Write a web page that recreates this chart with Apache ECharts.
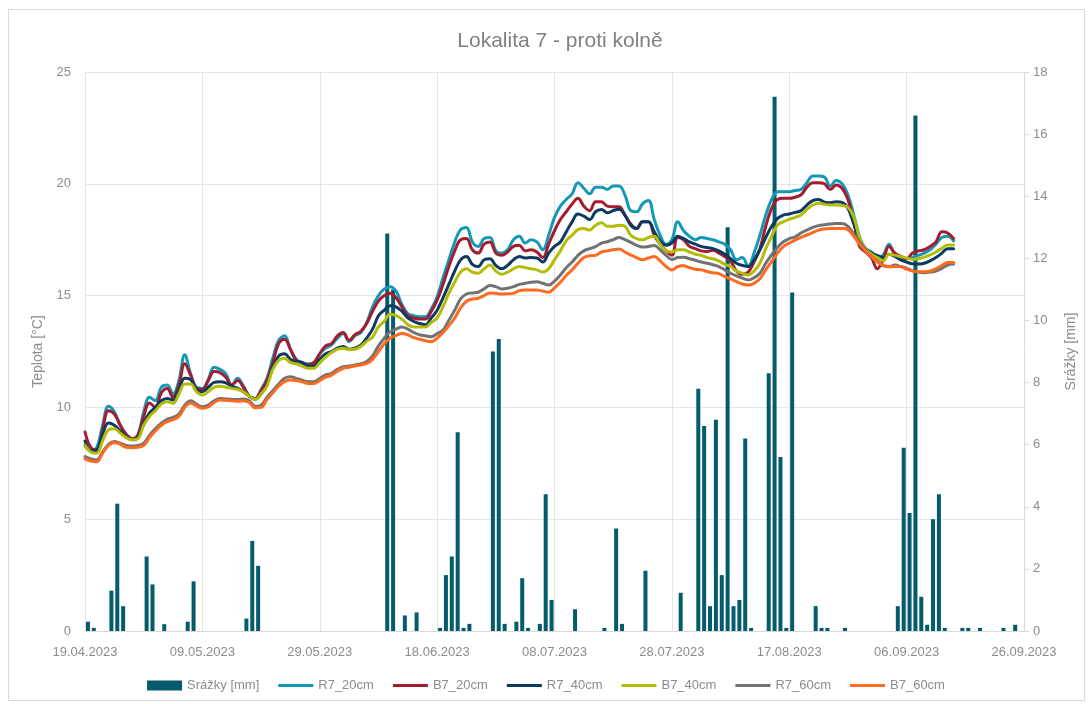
<!DOCTYPE html>
<html>
<head>
<meta charset="utf-8">
<title>Lokalita 7 - proti kolně</title>
<script src="https://cdn.jsdelivr.net/npm/echarts@6/dist/echarts.min.js"></script>
<style>
  body { margin: 0; background: #fff; }
  .frame { position: absolute; left: 8px; top: 9px; width: 1075px; height: 690px; border: 1px solid #d9d9d9; }
  #chart { position: absolute; left: 0; top: 0; width: 1092px; height: 704px; }
</style>
</head>
<body>
<div class="frame"></div>
<div id="chart"></div>
<script>
// popisky osy x (po 20 dnech od 19.04.2023)
const dayTicks = ['19.04.2023', '09.05.2023', '29.05.2023', '18.06.2023', '08.07.2023',
  '28.07.2023', '17.08.2023', '06.09.2023', '26.09.2023']

// srážky [mm], den po dni od 19.04.
const rainMm = [
  0.3, 0.1, 0, 0, 1.3, 4.1, 0.8, 0, 0, 0,
  2.4, 1.5, 0, 0.22, 0, 0, 0, 0.3, 1.6, 0,
  0, 0, 0, 0, 0, 0, 0, 0.4, 2.9, 2.1,
  0, 0, 0, 0, 0, 0, 0, 0, 0, 0,
  0, 0, 0, 0, 0, 0, 0, 0, 0, 0,
  0, 12.8, 11.0, 0, 0.5, 0, 0.6, 0, 0, 0,
  0.1, 1.8, 2.4, 6.4, 0.1, 0.23, 0, 0, 0, 9.0,
  9.4, 0.23, 0, 0.3, 1.7, 0.1, 0, 0.23, 4.4, 1.0,
  0, 0, 0, 0.7, 0, 0, 0, 0, 0.1, 0,
  3.3, 0.23, 0, 0, 0, 1.94, 0, 0, 0, 0,
  0, 1.23, 0, 0, 7.8, 6.6, 0.8, 6.8, 1.8, 13.0,
  0.8, 1.0, 6.2, 0.1, 0, 0, 8.3, 17.2, 5.6, 0.1,
  10.9, 0, 0, 0, 0.8, 0.1, 0.1, 0, 0, 0.1,
  0, 0, 0, 0, 0, 0, 0, 0, 0.8, 5.9,
  3.8, 16.6, 1.1, 0.2, 3.6, 4.4, 0.1, 0, 0, 0.1,
  0.1, 0, 0.1, 0, 0, 0, 0.1, 0, 0.2, 0
]

// teploty [°C]
const r7_20 = [
  8.3, 8.05, 8.2, 9.2, 10.05, 9.8, 9.2, 8.8, 8.6, 8.75,
  9.8, 10.45, 10.3, 10.9, 11.0, 10.6, 11.2, 12.35, 11.5, 10.9,
  10.85, 11.25, 11.8, 11.7, 11.5, 11.0, 11.3, 10.95, 10.5, 10.4,
  10.8, 11.3, 12.2, 13.0, 13.2, 12.6, 12.15, 12.0, 11.95, 12.0,
  12.4, 12.65, 12.8, 13.1, 13.3, 12.95, 13.2, 13.35, 13.8, 14.5,
  15.0, 15.3, 15.4, 15.2, 14.6, 14.2, 14.1, 14.05, 14.05, 14.4,
  14.95, 15.8, 16.6, 17.4, 17.95, 18.05, 17.4, 17.2, 17.55, 17.6,
  17.0, 16.9, 17.05, 17.5, 17.65, 17.35, 17.5, 17.4, 17.05, 17.7,
  18.5, 19.0, 19.3, 19.55, 20.05, 19.8, 19.55, 19.85, 19.85, 19.75,
  19.9, 19.9, 19.5, 18.8, 18.75, 19.1, 19.25, 18.4, 17.7, 17.3,
  17.5, 18.3, 17.9, 17.65, 17.5, 17.6, 17.55, 17.5, 17.4, 17.3,
  17.05, 16.6, 16.7, 16.3, 16.9, 17.7, 18.6, 19.3, 19.65, 19.65,
  19.65, 19.7, 19.75, 20.05, 20.35, 20.35, 20.3, 19.9, 20.15, 20.0,
  19.5, 18.6, 17.6, 17.1, 16.95, 16.7, 16.8, 17.3, 16.85, 16.7,
  16.65, 16.7, 16.8, 16.9, 17.05, 17.3, 17.6, 17.65, 17.45
]
const b7_20 = [
  8.9, 8.2, 8.1, 9.0, 9.85, 9.7, 9.2, 8.8, 8.6, 8.75,
  9.6, 10.2, 10.0, 10.65, 10.85, 10.45, 11.0, 11.95, 11.45, 10.85,
  10.8, 11.2, 11.6, 11.55, 11.35, 11.0, 11.2, 10.9, 10.5, 10.4,
  10.75, 11.2, 12.0, 12.85, 13.05, 12.6, 12.1, 12.0, 11.9, 12.0,
  12.4, 12.75, 12.85, 13.2, 13.35, 13.0, 13.25, 13.4, 13.75, 14.3,
  14.75, 15.0, 15.1, 14.9, 14.5, 14.1, 14.0, 13.95, 13.95, 14.3,
  14.8, 15.5, 16.3, 17.0, 17.5, 17.55, 17.05, 16.9, 17.3, 17.4,
  16.9, 16.8, 16.95, 17.2, 17.25, 17.0, 17.05, 16.95, 16.7, 17.3,
  17.9, 18.4, 18.75, 19.1, 19.35, 19.0, 18.8, 19.2, 19.2, 19.0,
  18.97, 18.97, 18.6, 18.2, 18.0, 18.3, 18.3, 17.7, 17.3, 17.0,
  16.8, 17.6, 17.5, 17.2, 17.1, 17.0, 16.97, 17.03, 16.9, 16.75,
  16.55, 16.1, 15.95, 16.05, 16.5, 17.1, 18.1, 18.9, 19.3, 19.35,
  19.35, 19.4, 19.5, 19.85, 20.05, 20.05, 20.0, 19.75, 19.95, 19.8,
  19.3, 18.3, 17.2, 16.95, 16.7, 16.2, 16.6, 17.2, 16.9, 16.75,
  16.65, 16.9, 17.0, 17.05, 17.2, 17.4, 17.85, 17.8, 17.55
]
const r7_40 = [
  8.5, 8.05, 8.1, 8.8, 9.3, 9.2, 8.95, 8.7, 8.55, 8.65,
  9.3, 9.75, 10.0, 10.3, 10.4, 10.33, 10.8, 11.3, 11.25, 10.8,
  10.7, 10.9, 11.12, 11.15, 11.1, 10.95, 10.85, 10.7, 10.5, 10.37,
  10.6, 11.0, 11.8, 12.3, 12.4, 12.15, 12.05, 12.0, 11.85, 11.85,
  12.15, 12.4, 12.5, 12.65, 12.72, 12.6, 12.65, 12.78, 13.1, 13.5,
  14.1, 14.35, 14.55, 14.5, 14.3, 14.0, 13.85, 13.75, 13.7, 14.0,
  14.35, 14.9, 15.5, 16.1, 16.6, 16.75, 16.4, 16.3, 16.6, 16.65,
  16.35, 16.2, 16.35, 16.6, 16.75, 16.68, 16.7, 16.68, 16.5, 16.9,
  17.2, 17.4, 17.85, 18.3, 18.65, 18.55, 18.4, 18.75, 18.85, 18.7,
  18.8, 18.86, 18.6, 18.15, 18.0, 18.3, 18.3, 17.85, 17.45, 17.25,
  17.35, 17.65, 17.55, 17.4, 17.3, 17.2, 17.15, 17.1, 17.0, 16.85,
  16.65, 16.45, 16.35, 16.3, 16.6, 17.05, 17.6, 18.1, 18.45, 18.6,
  18.65, 18.72, 18.8, 19.05, 19.25, 19.3, 19.18, 19.15, 19.2, 19.17,
  18.9, 18.2, 17.45, 17.1, 16.9, 16.8, 16.7, 16.85, 16.75, 16.6,
  16.5, 16.42, 16.41, 16.45, 16.55, 16.7, 16.9, 17.1, 17.1
]
const b7_40 = [
  8.3, 8.0, 7.95, 8.5, 9.0, 9.05, 8.85, 8.65, 8.55, 8.6,
  9.2, 9.6, 9.85, 10.15, 10.25, 10.18, 10.6, 11.05, 11.05, 10.7,
  10.55, 10.7, 10.9, 10.95, 10.9, 10.85, 10.8, 10.7, 10.5, 10.36,
  10.6, 10.95, 11.7, 12.1, 12.2, 12.0, 11.95, 11.85, 11.75, 11.75,
  12.0, 12.25, 12.45, 12.6, 12.65, 12.58, 12.6, 12.72, 12.95, 13.15,
  13.6, 13.85, 14.18, 14.1, 13.95, 13.7, 13.6, 13.6, 13.6, 13.8,
  14.0, 14.5, 15.1, 15.6, 16.05, 16.2, 16.05, 16.0, 16.2, 16.37,
  16.1, 15.96, 16.05, 16.2, 16.3, 16.25, 16.2, 16.15, 16.05, 16.2,
  16.6, 17.0, 17.45, 17.7, 17.95, 18.0, 17.93, 18.15, 18.26, 18.1,
  18.1, 18.15, 18.1, 17.7, 17.55, 17.5, 17.6, 17.65, 17.3, 17.0,
  16.95, 17.05, 17.05, 16.95, 16.85, 16.8, 16.7, 16.65, 16.55, 16.4,
  16.3, 16.1, 16.0, 15.92, 16.1, 16.45, 17.1, 17.65, 18.15, 18.3,
  18.41, 18.5, 18.6, 18.85, 19.05, 19.13, 19.08, 19.05, 19.05, 19.03,
  18.95, 18.5, 17.55, 17.1, 16.85, 16.7, 16.56, 16.85, 16.8, 16.74,
  16.68, 16.62, 16.65, 16.72, 16.82, 16.95, 17.12, 17.26, 17.26
]
const r7_60 = [
  7.8, 7.7, 7.65, 8.0, 8.35, 8.47, 8.4, 8.3, 8.27, 8.3,
  8.4, 8.75, 9.05, 9.3, 9.47, 9.55, 9.7, 10.1, 10.3, 10.15,
  10.03, 10.1, 10.3, 10.4, 10.38, 10.36, 10.35, 10.38, 10.3, 10.05,
  10.1, 10.45, 10.75, 11.05, 11.3, 11.37, 11.3, 11.22, 11.15, 11.15,
  11.3, 11.45, 11.52, 11.7, 11.82, 11.85, 11.9, 11.95, 12.05, 12.3,
  12.75, 13.1, 13.39, 13.5, 13.6, 13.5, 13.35, 13.25, 13.2, 13.16,
  13.3, 13.46, 13.9, 14.35, 14.85, 15.07, 15.12, 15.15, 15.3, 15.45,
  15.4, 15.3, 15.33, 15.4, 15.5, 15.55, 15.6, 15.62, 15.55, 15.47,
  15.65, 15.92, 16.25, 16.5, 16.8, 17.0, 17.1, 17.19, 17.35, 17.41,
  17.5, 17.6, 17.5, 17.38, 17.25, 17.17, 17.2, 17.24, 17.05, 16.8,
  16.62, 16.7, 16.72, 16.65, 16.58, 16.5, 16.45, 16.38, 16.3, 16.15,
  16.0, 15.88, 15.78, 15.7, 15.8, 16.0, 16.45, 16.82, 17.15, 17.41,
  17.55, 17.63, 17.8, 17.93, 18.05, 18.13, 18.17, 18.2, 18.22, 18.23,
  18.1, 17.75, 17.4, 17.05, 16.75, 16.55, 16.33, 16.3, 16.37, 16.3,
  16.22, 16.12, 16.05, 16.02, 16.05, 16.1, 16.22, 16.37, 16.41
]
const b7_60 = [
  7.7, 7.6, 7.57, 7.95, 8.3, 8.43, 8.35, 8.22, 8.2, 8.22,
  8.3, 8.65, 8.95, 9.2, 9.36, 9.45, 9.6, 10.0, 10.2, 10.07,
  9.96, 10.02, 10.22, 10.33, 10.32, 10.3, 10.28, 10.3, 10.22, 9.98,
  10.0, 10.35, 10.65, 10.95, 11.15, 11.22, 11.2, 11.15, 11.07, 11.07,
  11.2, 11.35, 11.44, 11.62, 11.75, 11.8, 11.85, 11.9, 11.97, 12.15,
  12.5, 12.85, 13.1, 13.22, 13.31, 13.25, 13.12, 13.05, 12.98, 12.94,
  13.1, 13.35, 13.65, 14.0, 14.45, 14.75, 14.85, 14.88, 15.0, 15.12,
  15.1, 15.07, 15.08, 15.1, 15.22, 15.25, 15.25, 15.25, 15.2, 15.15,
  15.35, 15.6, 15.9, 16.15, 16.45, 16.7, 16.78, 16.8, 16.95, 17.0,
  17.05, 17.08, 16.95, 16.82, 16.7, 16.6, 16.68, 16.75, 16.55, 16.3,
  16.15, 16.3, 16.33, 16.25, 16.18, 16.15, 16.08, 16.02, 15.98, 15.85,
  15.75, 15.62, 15.52, 15.47, 15.55, 15.75, 16.15, 16.52, 16.9, 17.19,
  17.35, 17.48, 17.6, 17.71, 17.82, 17.93, 17.98, 18.0, 18.0, 18.0,
  17.95, 17.65, 17.3, 17.0, 16.75, 16.5, 16.37, 16.29, 16.3, 16.3,
  16.18, 16.1, 16.07, 16.07, 16.1, 16.2, 16.35, 16.48, 16.48
]

const font = 'Liberation Sans, Arial, sans-serif'
const gray = '#8c8c8c'
// tenka vodorovna cara pres celou ikonu legendy (35x10)
const lineIcon = 'path://M0,0L0,0M0,3.5L35,3.5L35,6.5L0,6.5ZM35,10L35,10'

function lineSeries(name, data, color) {
  return {
    name: name,
    type: 'line',
    yAxisIndex: 0,
    smooth: 0.4,
    showSymbol: false,
    symbol: 'none',
    lineStyle: { width: 3, color: color, cap: 'round', join: 'round' },
    itemStyle: { color: color },
    data: data.map((v, i) => [i, v])
  }
}

let echart = echarts.init(document.getElementById('chart'), null, { renderer: 'canvas' })
echart.setOption({
  animation: false,
  textStyle: { fontFamily: font },
  title: {
    text: 'Lokalita 7 - proti kolně',
    left: 555,
    top: 26,
    textAlign: 'center',
    textStyle: { fontFamily: font, fontSize: 21, fontWeight: 'normal', color: '#808080' }
  },
  legend: {
    bottom: 7,
    left: 'center',
    itemWidth: 35,
    itemHeight: 10,
    itemGap: 19,
    textStyle: { fontFamily: font, fontSize: 13, color: gray },
    data: [
      { name: 'Srážky [mm]', icon: 'rect' },
      { name: 'R7_20cm', icon: lineIcon },
      { name: 'B7_20cm', icon: lineIcon },
      { name: 'R7_40cm', icon: lineIcon },
      { name: 'B7_40cm', icon: lineIcon },
      { name: 'R7_60cm', icon: lineIcon },
      { name: 'B7_60cm', icon: lineIcon }
    ]
  },
  grid: { left: 85, right: 68, top: 72, bottom: 73, containLabel: false },
  xAxis: {
    type: 'value',
    min: 0,
    max: 160,
    interval: 20,
    axisLine: { show: true, lineStyle: { color: '#d9d9d9' } },
    axisTick: { show: false },
    splitLine: { show: true, lineStyle: { color: '#e6e6e6' } },
    axisLabel: {
      margin: 15,
      fontSize: 13,
      color: gray,
      fontFamily: font,
      formatter: v => dayTicks[Math.round(v / 20)]
    }
  },
  yAxis: [
    {
      type: 'value',
      min: 0,
      max: 25,
      interval: 5,
      name: 'Teplota [°C]',
      nameLocation: 'middle',
      nameRotate: 90,
      nameGap: 31,
      nameTextStyle: { fontFamily: font, fontSize: 14, color: gray },
      axisLine: { show: false },
      axisTick: { show: false },
      splitLine: { show: true, lineStyle: { color: '#e6e6e6' } },
      axisLabel: { margin: 14, fontSize: 13, color: gray, fontFamily: font }
    },
    {
      type: 'value',
      min: 0,
      max: 18,
      interval: 2,
      position: 'right',
      name: 'Srážky [mm]',
      nameLocation: 'middle',
      nameRotate: 90,
      nameGap: 40,
      nameTextStyle: { fontFamily: font, fontSize: 14, color: gray },
      axisLine: { show: true, lineStyle: { color: '#d9d9d9' } },
      axisTick: { show: true, length: 5, lineStyle: { color: '#d9d9d9' } },
      splitLine: { show: false },
      axisLabel: { margin: 9, fontSize: 13, color: gray, fontFamily: font }
    }
  ],
  series: [
    {
      name: 'Srážky [mm]',
      type: 'bar',
      yAxisIndex: 1,
      barWidth: 4,
      itemStyle: { color: '#045b6c' },
      data: rainMm.map((v, i) => [i + 0.5, v])
    },
    lineSeries('R7_20cm', r7_20, '#1399b6'),
    lineSeries('B7_20cm', b7_20, '#a51c30'),
    lineSeries('R7_40cm', r7_40, '#0c3a62'),
    lineSeries('B7_40cm', b7_40, '#b3bd07'),
    lineSeries('R7_60cm', r7_60, '#727272'),
    lineSeries('B7_60cm', b7_60, '#ff6a21')
  ]
})
</script>
</body>
</html>
